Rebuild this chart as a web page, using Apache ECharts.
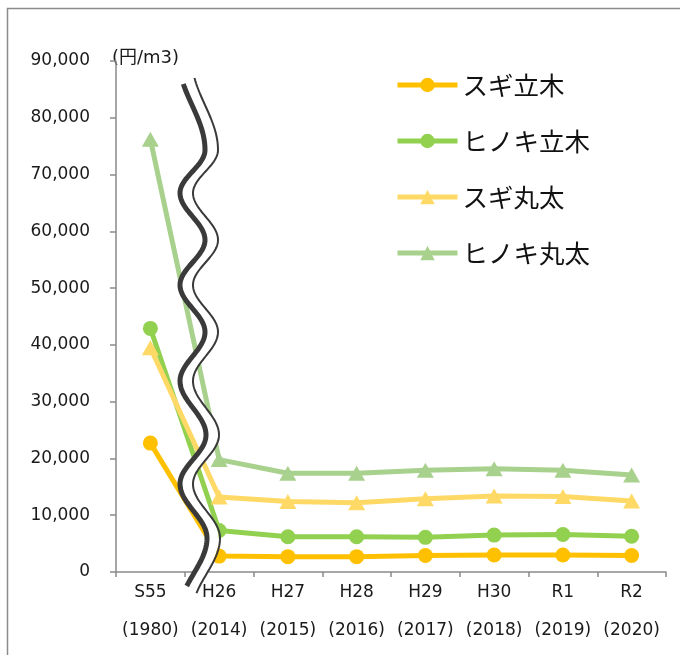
<!DOCTYPE html>
<html>
<head>
<meta charset="utf-8">
<script src="https://cdn.jsdelivr.net/npm/echarts@6/dist/echarts.min.js"></script>
<style>
  html, body { margin: 0; padding: 0; background: #fff; }
  #chart { width: 680px; height: 655px; }
</style>
</head>
<body>
<div id="chart"></div>
<script>
// Wood prices (yen per m3), 1980 and 2014-2020
const categories = ['S55', 'H26', 'H27', 'H28', 'H29', 'H30', 'R1', 'R2'];
const years = ['(1980)', '(2014)', '(2015)', '(2016)', '(2017)', '(2018)', '(2019)', '(2020)'];

const sugiStanding   = [22700, 2800, 2700, 2700, 2900, 3000, 3000, 2900];
const hinokiStanding = [42900, 7300, 6200, 6200, 6100, 6500, 6600, 6300];
const sugiLog        = [39500, 13200, 12400, 12200, 12900, 13400, 13300, 12500];
const hinokiLog      = [76200, 19800, 17400, 17400, 17900, 18200, 17900, 17100];

const yTicks = { min: 0, max: 90000, interval: 10000 };
const unitLabel = '(円/m3)';

const FONT_NUM = '"DejaVu Sans", Verdana, sans-serif';
const FONT_JP = '"Noto Sans CJK JP", sans-serif';
const AXIS_GRAY = '#8a8a8a';

// ---- wavy "axis break" decoration between S55 and H26 ----
// turning points of the wave; first and last entries are virtual turning
// points, each stroke is clipped to its own vertical range
const waveTurns = [[179, 60], [205, 150], [180, 193], [205, 240], [180, 285], [205, 332],
                   [180, 381], [206, 435], [180, 484], [207, 538], [180, 610]];

function sampleWave(turns, dx, range) {
  const pts = [];
  for (let i = 0; i < turns.length - 1; i++) {
    const [x0, y0] = turns[i];
    const [x1, y1] = turns[i + 1];
    const steps = 30;
    for (let s = 0; s <= steps; s++) {
      const t = s / steps;
      const y = y0 + t * (y1 - y0);
      if (y < range[0] || y > range[1]) continue;
      const x = x0 + (x1 - x0) * (1 - Math.cos(Math.PI * t)) / 2 + dx;
      if (pts.length && Math.abs(pts[pts.length - 1][1] - y) < 1e-6) continue;
      pts.push([x, y]);
    }
  }
  return pts;
}

const waveGraphics = [
  { type: 'polyline', z: 100, silent: true,
    shape: { points: sampleWave(waveTurns, 6.5, [80, 590]) },
    style: { stroke: '#ffffff', lineWidth: 10, fill: null } },
  { type: 'polyline', z: 101, silent: true,
    shape: { points: sampleWave(waveTurns, 0, [83, 586]) },
    style: { stroke: '#3a3a3a', lineWidth: 5, fill: null } },
  { type: 'polyline', z: 101, silent: true,
    shape: { points: sampleWave(waveTurns, 13, [76, 594]) },
    style: { stroke: '#3a3a3a', lineWidth: 2, fill: null } }
];

function lineSeries(name, data, color, symbol) {
  return {
    name, type: 'line', data,
    symbol,
    symbolSize: symbol === 'triangle' ? [17, 15] : 15,
    lineStyle: { color, width: 5 },
    itemStyle: { color },
    emphasis: { disabled: true },
    animation: false
  };
}

const chart = echarts.init(document.getElementById('chart'));
chart.setOption({
  animation: false,
  backgroundColor: '#ffffff',
  grid: { left: 116, right: 14, top: 61, bottom: 83, containLabel: false },
  legend: {
    orient: 'vertical',
    left: 390,
    top: 64,
    padding: 5,
    itemWidth: 60,
    itemHeight: 18,
    itemGap: 24,
    lineStyle: { width: 5 },
    textStyle: { fontFamily: FONT_JP, fontSize: 25.5, color: '#111', lineHeight: 32 },
    data: ['スギ立木', 'ヒノキ立木', 'スギ丸太', 'ヒノキ丸太']
  },
  xAxis: {
    type: 'category',
    data: categories,
    boundaryGap: true,
    axisLine: { lineStyle: { color: AXIS_GRAY, width: 1.5 } },
    axisTick: { show: true, length: 5, lineStyle: { color: AXIS_GRAY, width: 1.5 } },
    axisLabel: {
      interval: 0,
      margin: 2,
      fontFamily: FONT_NUM,
      fontSize: 17,
      color: '#1a1a1a',
      lineHeight: 38,
      formatter: (v, i) => v + '\n' + years[i]
    }
  },
  yAxis: {
    type: 'value',
    min: yTicks.min,
    max: yTicks.max,
    interval: yTicks.interval,
    name: unitLabel,
    nameLocation: 'end',
    nameGap: 3,
    nameTextStyle: { fontFamily: '"DejaVu Sans", "Noto Sans CJK JP", sans-serif', fontSize: 18,
                     color: '#1a1a1a', align: 'left', verticalAlign: 'middle', padding: [0, 0, 0, -4] },
    axisLine: { show: true, lineStyle: { color: AXIS_GRAY, width: 1.5 } },
    axisTick: { show: true, length: 6, lineStyle: { color: AXIS_GRAY, width: 1.5 } },
    splitLine: { show: false },
    axisLabel: {
      margin: 26,
      fontFamily: FONT_NUM,
      fontSize: 17,
      color: '#1a1a1a',
      formatter: v => v.toLocaleString('en-US')
    }
  },
  series: [
    lineSeries('スギ立木', sugiStanding, '#FFC000', 'circle'),
    lineSeries('ヒノキ立木', hinokiStanding, '#92D050', 'circle'),
    lineSeries('スギ丸太', sugiLog, '#FFD966', 'triangle'),
    lineSeries('ヒノキ丸太', hinokiLog, '#A9D18E', 'triangle')
  ],
  graphic: [
    { type: 'rect', z: 0, silent: true,
      shape: { x: 7.5, y: 8.5, width: 800, height: 800 },
      style: { fill: null, stroke: '#8c8c8c', lineWidth: 1.5 } },
    ...waveGraphics
  ]
});
</script>
</body>
</html>
